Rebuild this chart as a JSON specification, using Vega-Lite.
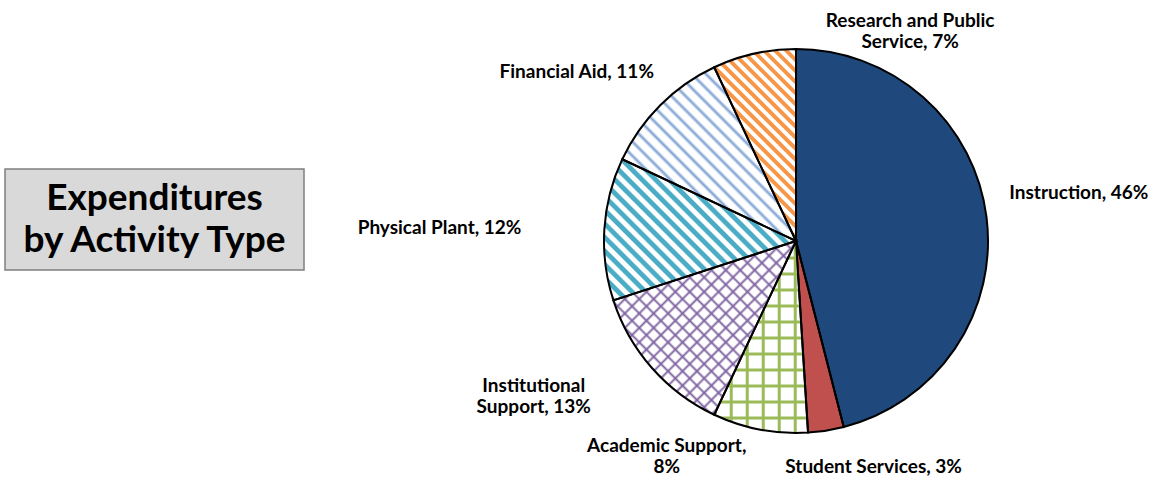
{
"$schema":"https://vega.github.io/schema/vega-lite/v6.json",
"padding":{"left":4,"top":1,"right":0,"bottom":0},
"bounds":"flush",
"spacing":599,
"config":{"view":{"stroke":null},"font":"Lato"},
"hconcat":[
{"vconcat":[
 {"width":299,"height":162,"data":{"values":[]},"mark":"point","view":{"stroke":null,"fill":null}},
 {"width":299,"height":101,"view":{"fill":"#D9D9D9","stroke":"#7F7F7F","strokeWidth":1.5},
  "data":{"values":[{"title":["Expenditures","by Activity Type"]}]},
  "mark":{"type":"text","font":"Lato","fontSize":37,"fontWeight":"bold","lineHeight":42,"align":"center","baseline":"middle","dy":-21,"color":"#000"},
  "encoding":{"text":{"field":"title","type":"nominal"}}}
],"spacing":0},
{"width":384,"height":470,
 "data":{"values":[
  {"category":"Instruction","value":46,"order":1,"label":"Instruction, 46%"},
  {"category":"Student Services","value":3,"order":2,"label":"Student Services, 3%"},
  {"category":"Academic Support","value":8,"order":3,"label":["Academic Support,","8%"]},
  {"category":"Institutional Support","value":13,"order":4,"label":["Institutional","Support, 13%"]},
  {"category":"Physical Plant","value":12,"order":5,"label":"Physical Plant, 12%"},
  {"category":"Financial Aid","value":11,"order":6,"label":"Financial Aid, 11%"},
  {"category":"Research and Public Service","value":7,"order":7,"label":["Research and Public","Service, 7%"]}
 ]},
 "encoding":{
  "theta":{"field":"value","type":"quantitative","stack":true},
  "order":{"field":"order","type":"quantitative"},
  "detail":{"field":"category","type":"nominal"}
 },
 "layer":[
  {"mark":{"type":"arc","outerRadius":192,"strokeWidth":0},
   "encoding":{"fill":{"condition":[
    {"test":"datum.category === 'Student Services'","value":"#C0504D"},
    {"test":"datum.category === 'Academic Support'","value":{"gradient":"linear","x1":0,"y1":0,"x2":0,"y2":1.0417,"stops":[
{"offset":0,"color":"#9BBB59"},{"offset":0.01,"color":"#9BBB59"},{"offset":0.015,"color":"#fff"},{"offset":0.075,"color":"#fff"},
{"offset":0.08,"color":"#9BBB59"},{"offset":0.09,"color":"#9BBB59"},{"offset":0.095,"color":"#fff"},{"offset":0.155,"color":"#fff"},
{"offset":0.16,"color":"#9BBB59"},{"offset":0.17,"color":"#9BBB59"},{"offset":0.175,"color":"#fff"},{"offset":0.235,"color":"#fff"},
{"offset":0.24,"color":"#9BBB59"},{"offset":0.25,"color":"#9BBB59"},{"offset":0.255,"color":"#fff"},{"offset":0.315,"color":"#fff"},
{"offset":0.32,"color":"#9BBB59"},{"offset":0.33,"color":"#9BBB59"},{"offset":0.335,"color":"#fff"},{"offset":0.395,"color":"#fff"},
{"offset":0.4,"color":"#9BBB59"},{"offset":0.41,"color":"#9BBB59"},{"offset":0.415,"color":"#fff"},{"offset":0.475,"color":"#fff"},
{"offset":0.48,"color":"#9BBB59"},{"offset":0.49,"color":"#9BBB59"},{"offset":0.495,"color":"#fff"},{"offset":0.555,"color":"#fff"},
{"offset":0.56,"color":"#9BBB59"},{"offset":0.57,"color":"#9BBB59"},{"offset":0.575,"color":"#fff"},{"offset":0.635,"color":"#fff"},
{"offset":0.64,"color":"#9BBB59"},{"offset":0.65,"color":"#9BBB59"},{"offset":0.655,"color":"#fff"},{"offset":0.715,"color":"#fff"},
{"offset":0.72,"color":"#9BBB59"},{"offset":0.73,"color":"#9BBB59"},{"offset":0.735,"color":"#fff"},{"offset":0.795,"color":"#fff"},
{"offset":0.8,"color":"#9BBB59"},{"offset":0.81,"color":"#9BBB59"},{"offset":0.815,"color":"#fff"},{"offset":0.875,"color":"#fff"},
{"offset":0.88,"color":"#9BBB59"},{"offset":0.89,"color":"#9BBB59"},{"offset":0.895,"color":"#fff"},{"offset":0.955,"color":"#fff"},
{"offset":0.96,"color":"#9BBB59"},{"offset":0.97,"color":"#9BBB59"},{"offset":0.975,"color":"#fff"},{"offset":1,"color":"#fff"}]}},
    {"test":"datum.category === 'Institutional Support'","value":{"gradient":"linear","x1":0,"y1":1,"x2":1.0368,"y2":0.0137,"stops":[
{"offset":0,"color":"#fff"},{"offset":0.025,"color":"#fff"},{"offset":0.0325,"color":"#8064A2"},
{"offset":0.04,"color":"#fff"},{"offset":0.065,"color":"#fff"},{"offset":0.0725,"color":"#8064A2"},
{"offset":0.08,"color":"#fff"},{"offset":0.105,"color":"#fff"},{"offset":0.1125,"color":"#8064A2"},
{"offset":0.12,"color":"#fff"},{"offset":0.145,"color":"#fff"},{"offset":0.1525,"color":"#8064A2"},
{"offset":0.16,"color":"#fff"},{"offset":0.185,"color":"#fff"},{"offset":0.1925,"color":"#8064A2"},
{"offset":0.2,"color":"#fff"},{"offset":0.225,"color":"#fff"},{"offset":0.2325,"color":"#8064A2"},
{"offset":0.24,"color":"#fff"},{"offset":0.265,"color":"#fff"},{"offset":0.2725,"color":"#8064A2"},
{"offset":0.28,"color":"#fff"},{"offset":0.305,"color":"#fff"},{"offset":0.3125,"color":"#8064A2"},
{"offset":0.32,"color":"#fff"},{"offset":0.345,"color":"#fff"},{"offset":0.3525,"color":"#8064A2"},
{"offset":0.36,"color":"#fff"},{"offset":0.385,"color":"#fff"},{"offset":0.3925,"color":"#8064A2"},
{"offset":0.4,"color":"#fff"},{"offset":0.425,"color":"#fff"},{"offset":0.4325,"color":"#8064A2"},
{"offset":0.44,"color":"#fff"},{"offset":0.465,"color":"#fff"},{"offset":0.4725,"color":"#8064A2"},
{"offset":0.48,"color":"#fff"},{"offset":0.505,"color":"#fff"},{"offset":0.5125,"color":"#8064A2"},
{"offset":0.52,"color":"#fff"},{"offset":0.545,"color":"#fff"},{"offset":0.5525,"color":"#8064A2"},
{"offset":0.56,"color":"#fff"},{"offset":0.585,"color":"#fff"},{"offset":0.5925,"color":"#8064A2"},
{"offset":0.6,"color":"#fff"},{"offset":0.625,"color":"#fff"},{"offset":0.6325,"color":"#8064A2"},
{"offset":0.64,"color":"#fff"},{"offset":0.665,"color":"#fff"},{"offset":0.6725,"color":"#8064A2"},
{"offset":0.68,"color":"#fff"},{"offset":0.705,"color":"#fff"},{"offset":0.7125,"color":"#8064A2"},
{"offset":0.72,"color":"#fff"},{"offset":0.745,"color":"#fff"},{"offset":0.7525,"color":"#8064A2"},
{"offset":0.76,"color":"#fff"},{"offset":0.785,"color":"#fff"},{"offset":0.7925,"color":"#8064A2"},
{"offset":0.8,"color":"#fff"},{"offset":0.825,"color":"#fff"},{"offset":0.8325,"color":"#8064A2"},
{"offset":0.84,"color":"#fff"},{"offset":0.865,"color":"#fff"},{"offset":0.8725,"color":"#8064A2"},
{"offset":0.88,"color":"#fff"},{"offset":0.905,"color":"#fff"},{"offset":0.9125,"color":"#8064A2"},
{"offset":0.92,"color":"#fff"},{"offset":0.945,"color":"#fff"},{"offset":0.9525,"color":"#8064A2"},
{"offset":0.96,"color":"#fff"},{"offset":0.985,"color":"#fff"},{"offset":0.9925,"color":"#8064A2"},
{"offset":1,"color":"#fff"}]}},
    {"test":"datum.category === 'Physical Plant'","value":{"gradient":"linear","x1":0,"y1":1,"x2":1.148,"y2":0.157,"stops":[
{"offset":0,"color":"#fff"},{"offset":0.015,"color":"#fff"},{"offset":0.02,"color":"#4BACC6"},{"offset":0.035,"color":"#4BACC6"},
{"offset":0.04,"color":"#fff"},{"offset":0.055,"color":"#fff"},{"offset":0.06,"color":"#4BACC6"},{"offset":0.075,"color":"#4BACC6"},
{"offset":0.08,"color":"#fff"},{"offset":0.095,"color":"#fff"},{"offset":0.1,"color":"#4BACC6"},{"offset":0.115,"color":"#4BACC6"},
{"offset":0.12,"color":"#fff"},{"offset":0.135,"color":"#fff"},{"offset":0.14,"color":"#4BACC6"},{"offset":0.155,"color":"#4BACC6"},
{"offset":0.16,"color":"#fff"},{"offset":0.175,"color":"#fff"},{"offset":0.18,"color":"#4BACC6"},{"offset":0.195,"color":"#4BACC6"},
{"offset":0.2,"color":"#fff"},{"offset":0.215,"color":"#fff"},{"offset":0.22,"color":"#4BACC6"},{"offset":0.235,"color":"#4BACC6"},
{"offset":0.24,"color":"#fff"},{"offset":0.255,"color":"#fff"},{"offset":0.26,"color":"#4BACC6"},{"offset":0.275,"color":"#4BACC6"},
{"offset":0.28,"color":"#fff"},{"offset":0.295,"color":"#fff"},{"offset":0.3,"color":"#4BACC6"},{"offset":0.315,"color":"#4BACC6"},
{"offset":0.32,"color":"#fff"},{"offset":0.335,"color":"#fff"},{"offset":0.34,"color":"#4BACC6"},{"offset":0.355,"color":"#4BACC6"},
{"offset":0.36,"color":"#fff"},{"offset":0.375,"color":"#fff"},{"offset":0.38,"color":"#4BACC6"},{"offset":0.395,"color":"#4BACC6"},
{"offset":0.4,"color":"#fff"},{"offset":0.415,"color":"#fff"},{"offset":0.42,"color":"#4BACC6"},{"offset":0.435,"color":"#4BACC6"},
{"offset":0.44,"color":"#fff"},{"offset":0.455,"color":"#fff"},{"offset":0.46,"color":"#4BACC6"},{"offset":0.475,"color":"#4BACC6"},
{"offset":0.48,"color":"#fff"},{"offset":0.495,"color":"#fff"},{"offset":0.5,"color":"#4BACC6"},{"offset":0.515,"color":"#4BACC6"},
{"offset":0.52,"color":"#fff"},{"offset":0.535,"color":"#fff"},{"offset":0.54,"color":"#4BACC6"},{"offset":0.555,"color":"#4BACC6"},
{"offset":0.56,"color":"#fff"},{"offset":0.575,"color":"#fff"},{"offset":0.58,"color":"#4BACC6"},{"offset":0.595,"color":"#4BACC6"},
{"offset":0.6,"color":"#fff"},{"offset":0.615,"color":"#fff"},{"offset":0.62,"color":"#4BACC6"},{"offset":0.635,"color":"#4BACC6"},
{"offset":0.64,"color":"#fff"},{"offset":0.655,"color":"#fff"},{"offset":0.66,"color":"#4BACC6"},{"offset":0.675,"color":"#4BACC6"},
{"offset":0.68,"color":"#fff"},{"offset":0.695,"color":"#fff"},{"offset":0.7,"color":"#4BACC6"},{"offset":0.715,"color":"#4BACC6"},
{"offset":0.72,"color":"#fff"},{"offset":0.735,"color":"#fff"},{"offset":0.74,"color":"#4BACC6"},{"offset":0.755,"color":"#4BACC6"},
{"offset":0.76,"color":"#fff"},{"offset":0.775,"color":"#fff"},{"offset":0.78,"color":"#4BACC6"},{"offset":0.795,"color":"#4BACC6"},
{"offset":0.8,"color":"#fff"},{"offset":0.815,"color":"#fff"},{"offset":0.82,"color":"#4BACC6"},{"offset":0.835,"color":"#4BACC6"},
{"offset":0.84,"color":"#fff"},{"offset":0.855,"color":"#fff"},{"offset":0.86,"color":"#4BACC6"},{"offset":0.875,"color":"#4BACC6"},
{"offset":0.88,"color":"#fff"},{"offset":0.895,"color":"#fff"},{"offset":0.9,"color":"#4BACC6"},{"offset":0.915,"color":"#4BACC6"},
{"offset":0.92,"color":"#fff"},{"offset":0.935,"color":"#fff"},{"offset":0.94,"color":"#4BACC6"},{"offset":0.955,"color":"#4BACC6"},
{"offset":0.96,"color":"#fff"},{"offset":0.975,"color":"#fff"},{"offset":0.98,"color":"#4BACC6"},{"offset":0.995,"color":"#4BACC6"},
{"offset":1,"color":"#fff"}]}},
    {"test":"datum.category === 'Financial Aid'","value":{"gradient":"linear","x1":0,"y1":1,"x2":1.016,"y2":-0.016,"stops":[
{"offset":0,"color":"#fff"},{"offset":0.02,"color":"#fff"},{"offset":0.03,"color":"#7DA0D4"},
{"offset":0.04,"color":"#fff"},{"offset":0.06,"color":"#fff"},{"offset":0.07,"color":"#7DA0D4"},
{"offset":0.08,"color":"#fff"},{"offset":0.1,"color":"#fff"},{"offset":0.11,"color":"#7DA0D4"},
{"offset":0.12,"color":"#fff"},{"offset":0.14,"color":"#fff"},{"offset":0.15,"color":"#7DA0D4"},
{"offset":0.16,"color":"#fff"},{"offset":0.18,"color":"#fff"},{"offset":0.19,"color":"#7DA0D4"},
{"offset":0.2,"color":"#fff"},{"offset":0.22,"color":"#fff"},{"offset":0.23,"color":"#7DA0D4"},
{"offset":0.24,"color":"#fff"},{"offset":0.26,"color":"#fff"},{"offset":0.27,"color":"#7DA0D4"},
{"offset":0.28,"color":"#fff"},{"offset":0.3,"color":"#fff"},{"offset":0.31,"color":"#7DA0D4"},
{"offset":0.32,"color":"#fff"},{"offset":0.34,"color":"#fff"},{"offset":0.35,"color":"#7DA0D4"},
{"offset":0.36,"color":"#fff"},{"offset":0.38,"color":"#fff"},{"offset":0.39,"color":"#7DA0D4"},
{"offset":0.4,"color":"#fff"},{"offset":0.42,"color":"#fff"},{"offset":0.43,"color":"#7DA0D4"},
{"offset":0.44,"color":"#fff"},{"offset":0.46,"color":"#fff"},{"offset":0.47,"color":"#7DA0D4"},
{"offset":0.48,"color":"#fff"},{"offset":0.5,"color":"#fff"},{"offset":0.51,"color":"#7DA0D4"},
{"offset":0.52,"color":"#fff"},{"offset":0.54,"color":"#fff"},{"offset":0.55,"color":"#7DA0D4"},
{"offset":0.56,"color":"#fff"},{"offset":0.58,"color":"#fff"},{"offset":0.59,"color":"#7DA0D4"},
{"offset":0.6,"color":"#fff"},{"offset":0.62,"color":"#fff"},{"offset":0.63,"color":"#7DA0D4"},
{"offset":0.64,"color":"#fff"},{"offset":0.66,"color":"#fff"},{"offset":0.67,"color":"#7DA0D4"},
{"offset":0.68,"color":"#fff"},{"offset":0.7,"color":"#fff"},{"offset":0.71,"color":"#7DA0D4"},
{"offset":0.72,"color":"#fff"},{"offset":0.74,"color":"#fff"},{"offset":0.75,"color":"#7DA0D4"},
{"offset":0.76,"color":"#fff"},{"offset":0.78,"color":"#fff"},{"offset":0.79,"color":"#7DA0D4"},
{"offset":0.8,"color":"#fff"},{"offset":0.82,"color":"#fff"},{"offset":0.83,"color":"#7DA0D4"},
{"offset":0.84,"color":"#fff"},{"offset":0.86,"color":"#fff"},{"offset":0.87,"color":"#7DA0D4"},
{"offset":0.88,"color":"#fff"},{"offset":0.9,"color":"#fff"},{"offset":0.91,"color":"#7DA0D4"},
{"offset":0.92,"color":"#fff"},{"offset":0.94,"color":"#fff"},{"offset":0.95,"color":"#7DA0D4"},
{"offset":0.96,"color":"#fff"},{"offset":0.98,"color":"#fff"},{"offset":0.99,"color":"#7DA0D4"},
{"offset":1,"color":"#fff"}]}},
    {"test":"datum.category === 'Research and Public Service'","value":{"gradient":"linear","x1":0,"y1":1,"x2":0.521,"y2":-0.221,"stops":[
{"offset":0,"color":"#fff"},{"offset":0.015,"color":"#fff"},{"offset":0.02,"color":"#F79646"},{"offset":0.035,"color":"#F79646"},
{"offset":0.04,"color":"#fff"},{"offset":0.055,"color":"#fff"},{"offset":0.06,"color":"#F79646"},{"offset":0.075,"color":"#F79646"},
{"offset":0.08,"color":"#fff"},{"offset":0.095,"color":"#fff"},{"offset":0.1,"color":"#F79646"},{"offset":0.115,"color":"#F79646"},
{"offset":0.12,"color":"#fff"},{"offset":0.135,"color":"#fff"},{"offset":0.14,"color":"#F79646"},{"offset":0.155,"color":"#F79646"},
{"offset":0.16,"color":"#fff"},{"offset":0.175,"color":"#fff"},{"offset":0.18,"color":"#F79646"},{"offset":0.195,"color":"#F79646"},
{"offset":0.2,"color":"#fff"},{"offset":0.215,"color":"#fff"},{"offset":0.22,"color":"#F79646"},{"offset":0.235,"color":"#F79646"},
{"offset":0.24,"color":"#fff"},{"offset":0.255,"color":"#fff"},{"offset":0.26,"color":"#F79646"},{"offset":0.275,"color":"#F79646"},
{"offset":0.28,"color":"#fff"},{"offset":0.295,"color":"#fff"},{"offset":0.3,"color":"#F79646"},{"offset":0.315,"color":"#F79646"},
{"offset":0.32,"color":"#fff"},{"offset":0.335,"color":"#fff"},{"offset":0.34,"color":"#F79646"},{"offset":0.355,"color":"#F79646"},
{"offset":0.36,"color":"#fff"},{"offset":0.375,"color":"#fff"},{"offset":0.38,"color":"#F79646"},{"offset":0.395,"color":"#F79646"},
{"offset":0.4,"color":"#fff"},{"offset":0.415,"color":"#fff"},{"offset":0.42,"color":"#F79646"},{"offset":0.435,"color":"#F79646"},
{"offset":0.44,"color":"#fff"},{"offset":0.455,"color":"#fff"},{"offset":0.46,"color":"#F79646"},{"offset":0.475,"color":"#F79646"},
{"offset":0.48,"color":"#fff"},{"offset":0.495,"color":"#fff"},{"offset":0.5,"color":"#F79646"},{"offset":0.515,"color":"#F79646"},
{"offset":0.52,"color":"#fff"},{"offset":0.535,"color":"#fff"},{"offset":0.54,"color":"#F79646"},{"offset":0.555,"color":"#F79646"},
{"offset":0.56,"color":"#fff"},{"offset":0.575,"color":"#fff"},{"offset":0.58,"color":"#F79646"},{"offset":0.595,"color":"#F79646"},
{"offset":0.6,"color":"#fff"},{"offset":0.615,"color":"#fff"},{"offset":0.62,"color":"#F79646"},{"offset":0.635,"color":"#F79646"},
{"offset":0.64,"color":"#fff"},{"offset":0.655,"color":"#fff"},{"offset":0.66,"color":"#F79646"},{"offset":0.675,"color":"#F79646"},
{"offset":0.68,"color":"#fff"},{"offset":0.695,"color":"#fff"},{"offset":0.7,"color":"#F79646"},{"offset":0.715,"color":"#F79646"},
{"offset":0.72,"color":"#fff"},{"offset":0.735,"color":"#fff"},{"offset":0.74,"color":"#F79646"},{"offset":0.755,"color":"#F79646"},
{"offset":0.76,"color":"#fff"},{"offset":0.775,"color":"#fff"},{"offset":0.78,"color":"#F79646"},{"offset":0.795,"color":"#F79646"},
{"offset":0.8,"color":"#fff"},{"offset":0.815,"color":"#fff"},{"offset":0.82,"color":"#F79646"},{"offset":0.835,"color":"#F79646"},
{"offset":0.84,"color":"#fff"},{"offset":0.855,"color":"#fff"},{"offset":0.86,"color":"#F79646"},{"offset":0.875,"color":"#F79646"},
{"offset":0.88,"color":"#fff"},{"offset":0.895,"color":"#fff"},{"offset":0.9,"color":"#F79646"},{"offset":0.915,"color":"#F79646"},
{"offset":0.92,"color":"#fff"},{"offset":0.935,"color":"#fff"},{"offset":0.94,"color":"#F79646"},{"offset":0.955,"color":"#F79646"},
{"offset":0.96,"color":"#fff"},{"offset":0.975,"color":"#fff"},{"offset":0.98,"color":"#F79646"},{"offset":0.995,"color":"#F79646"},
{"offset":1,"color":"#fff"}]}}
   ],"value":"#1F497D"}}},
  {"mark":{"type":"arc","outerRadius":192,"stroke":"#000000","strokeWidth":2},
   "encoding":{"fill":{"condition":[
    {"test":"datum.category === 'Academic Support'","value":{"gradient":"linear","x1":0,"y1":0,"x2":1.066,"y2":0,"stops":[
{"offset":0,"color":"#9BBB59"},{"offset":0.02,"color":"#9BBB59"},{"offset":0.03,"color":"rgba(155,187,89,0)"},{"offset":0.15,"color":"rgba(155,187,89,0)"},
{"offset":0.16,"color":"#9BBB59"},{"offset":0.18,"color":"#9BBB59"},{"offset":0.19,"color":"rgba(155,187,89,0)"},{"offset":0.31,"color":"rgba(155,187,89,0)"},
{"offset":0.32,"color":"#9BBB59"},{"offset":0.34,"color":"#9BBB59"},{"offset":0.35,"color":"rgba(155,187,89,0)"},{"offset":0.47,"color":"rgba(155,187,89,0)"},
{"offset":0.48,"color":"#9BBB59"},{"offset":0.5,"color":"#9BBB59"},{"offset":0.51,"color":"rgba(155,187,89,0)"},{"offset":0.63,"color":"rgba(155,187,89,0)"},
{"offset":0.64,"color":"#9BBB59"},{"offset":0.66,"color":"#9BBB59"},{"offset":0.67,"color":"rgba(155,187,89,0)"},{"offset":0.79,"color":"rgba(155,187,89,0)"},
{"offset":0.8,"color":"#9BBB59"},{"offset":0.82,"color":"#9BBB59"},{"offset":0.83,"color":"rgba(155,187,89,0)"},{"offset":0.95,"color":"rgba(155,187,89,0)"},
{"offset":0.96,"color":"#9BBB59"},{"offset":0.98,"color":"#9BBB59"},{"offset":0.99,"color":"rgba(155,187,89,0)"},{"offset":1,"color":"rgba(155,187,89,0)"}]}},
    {"test":"datum.category === 'Institutional Support'","value":{"gradient":"linear","x1":0,"y1":0,"x2":1.0368,"y2":0.9863,"stops":[
{"offset":0,"color":"rgba(128,100,162,0)"},{"offset":0.025,"color":"rgba(128,100,162,0)"},{"offset":0.0325,"color":"#8064A2"},
{"offset":0.04,"color":"rgba(128,100,162,0)"},{"offset":0.065,"color":"rgba(128,100,162,0)"},{"offset":0.0725,"color":"#8064A2"},
{"offset":0.08,"color":"rgba(128,100,162,0)"},{"offset":0.105,"color":"rgba(128,100,162,0)"},{"offset":0.1125,"color":"#8064A2"},
{"offset":0.12,"color":"rgba(128,100,162,0)"},{"offset":0.145,"color":"rgba(128,100,162,0)"},{"offset":0.1525,"color":"#8064A2"},
{"offset":0.16,"color":"rgba(128,100,162,0)"},{"offset":0.185,"color":"rgba(128,100,162,0)"},{"offset":0.1925,"color":"#8064A2"},
{"offset":0.2,"color":"rgba(128,100,162,0)"},{"offset":0.225,"color":"rgba(128,100,162,0)"},{"offset":0.2325,"color":"#8064A2"},
{"offset":0.24,"color":"rgba(128,100,162,0)"},{"offset":0.265,"color":"rgba(128,100,162,0)"},{"offset":0.2725,"color":"#8064A2"},
{"offset":0.28,"color":"rgba(128,100,162,0)"},{"offset":0.305,"color":"rgba(128,100,162,0)"},{"offset":0.3125,"color":"#8064A2"},
{"offset":0.32,"color":"rgba(128,100,162,0)"},{"offset":0.345,"color":"rgba(128,100,162,0)"},{"offset":0.3525,"color":"#8064A2"},
{"offset":0.36,"color":"rgba(128,100,162,0)"},{"offset":0.385,"color":"rgba(128,100,162,0)"},{"offset":0.3925,"color":"#8064A2"},
{"offset":0.4,"color":"rgba(128,100,162,0)"},{"offset":0.425,"color":"rgba(128,100,162,0)"},{"offset":0.4325,"color":"#8064A2"},
{"offset":0.44,"color":"rgba(128,100,162,0)"},{"offset":0.465,"color":"rgba(128,100,162,0)"},{"offset":0.4725,"color":"#8064A2"},
{"offset":0.48,"color":"rgba(128,100,162,0)"},{"offset":0.505,"color":"rgba(128,100,162,0)"},{"offset":0.5125,"color":"#8064A2"},
{"offset":0.52,"color":"rgba(128,100,162,0)"},{"offset":0.545,"color":"rgba(128,100,162,0)"},{"offset":0.5525,"color":"#8064A2"},
{"offset":0.56,"color":"rgba(128,100,162,0)"},{"offset":0.585,"color":"rgba(128,100,162,0)"},{"offset":0.5925,"color":"#8064A2"},
{"offset":0.6,"color":"rgba(128,100,162,0)"},{"offset":0.625,"color":"rgba(128,100,162,0)"},{"offset":0.6325,"color":"#8064A2"},
{"offset":0.64,"color":"rgba(128,100,162,0)"},{"offset":0.665,"color":"rgba(128,100,162,0)"},{"offset":0.6725,"color":"#8064A2"},
{"offset":0.68,"color":"rgba(128,100,162,0)"},{"offset":0.705,"color":"rgba(128,100,162,0)"},{"offset":0.7125,"color":"#8064A2"},
{"offset":0.72,"color":"rgba(128,100,162,0)"},{"offset":0.745,"color":"rgba(128,100,162,0)"},{"offset":0.7525,"color":"#8064A2"},
{"offset":0.76,"color":"rgba(128,100,162,0)"},{"offset":0.785,"color":"rgba(128,100,162,0)"},{"offset":0.7925,"color":"#8064A2"},
{"offset":0.8,"color":"rgba(128,100,162,0)"},{"offset":0.825,"color":"rgba(128,100,162,0)"},{"offset":0.8325,"color":"#8064A2"},
{"offset":0.84,"color":"rgba(128,100,162,0)"},{"offset":0.865,"color":"rgba(128,100,162,0)"},{"offset":0.8725,"color":"#8064A2"},
{"offset":0.88,"color":"rgba(128,100,162,0)"},{"offset":0.905,"color":"rgba(128,100,162,0)"},{"offset":0.9125,"color":"#8064A2"},
{"offset":0.92,"color":"rgba(128,100,162,0)"},{"offset":0.945,"color":"rgba(128,100,162,0)"},{"offset":0.9525,"color":"#8064A2"},
{"offset":0.96,"color":"rgba(128,100,162,0)"},{"offset":0.985,"color":"rgba(128,100,162,0)"},{"offset":0.9925,"color":"#8064A2"},
{"offset":1,"color":"rgba(128,100,162,0)"}]}}
   ],"value":"transparent"}}},
  {"mark":{"type":"text","radius":215,"align":"left","baseline":"middle","dy":-21,"font":"Lato","fontSize":19,"fontWeight":"bold","lineHeight":21,"color":"#000"},
   "encoding":{"text":{"condition":{"test":"datum.category === 'Instruction'","field":"label","type":"nominal"},"value":""}}},
  {"mark":{"type":"text","radius":215,"align":"center","baseline":"middle","dx":161,"dy":-10,"font":"Lato","fontSize":19,"fontWeight":"bold","lineHeight":21,"color":"#000"},
   "encoding":{"text":{"condition":{"test":"datum.category === 'Research and Public Service'","field":"label","type":"nominal"},"value":""}}},
  {"mark":{"type":"text","radius":215,"align":"center","baseline":"middle","dx":44,"dy":14,"font":"Lato","fontSize":19,"fontWeight":"bold","lineHeight":21,"color":"#000"},
   "encoding":{"text":{"condition":{"test":"datum.category === 'Student Services'","field":"label","type":"nominal"},"value":""}}},
  {"mark":{"type":"text","radius":215,"align":"center","baseline":"middle","dx":-89,"dy":-6,"font":"Lato","fontSize":19,"fontWeight":"bold","lineHeight":21,"color":"#000"},
   "encoding":{"text":{"condition":{"test":"datum.category === 'Academic Support'","field":"label","type":"nominal"},"value":""}}},
  {"mark":{"type":"text","radius":215,"align":"center","baseline":"middle","dx":-101,"dy":3,"font":"Lato","fontSize":19,"fontWeight":"bold","lineHeight":21,"color":"#000"},
   "encoding":{"text":{"condition":{"test":"datum.category === 'Institutional Support'","field":"label","type":"nominal"},"value":""}}},
  {"mark":{"type":"text","radius":215,"align":"right","baseline":"middle","dx":-60,"dy":0,"font":"Lato","fontSize":19,"fontWeight":"bold","lineHeight":21,"color":"#000"},
   "encoding":{"text":{"condition":{"test":"datum.category === 'Physical Plant'","field":"label","type":"nominal"},"value":""}}},
  {"mark":{"type":"text","radius":215,"align":"right","baseline":"middle","dx":10,"dy":-17,"font":"Lato","fontSize":19,"fontWeight":"bold","lineHeight":21,"color":"#000"},
   "encoding":{"text":{"condition":{"test":"datum.category === 'Financial Aid'","field":"label","type":"nominal"},"value":""}}}
 ]}
]
}
